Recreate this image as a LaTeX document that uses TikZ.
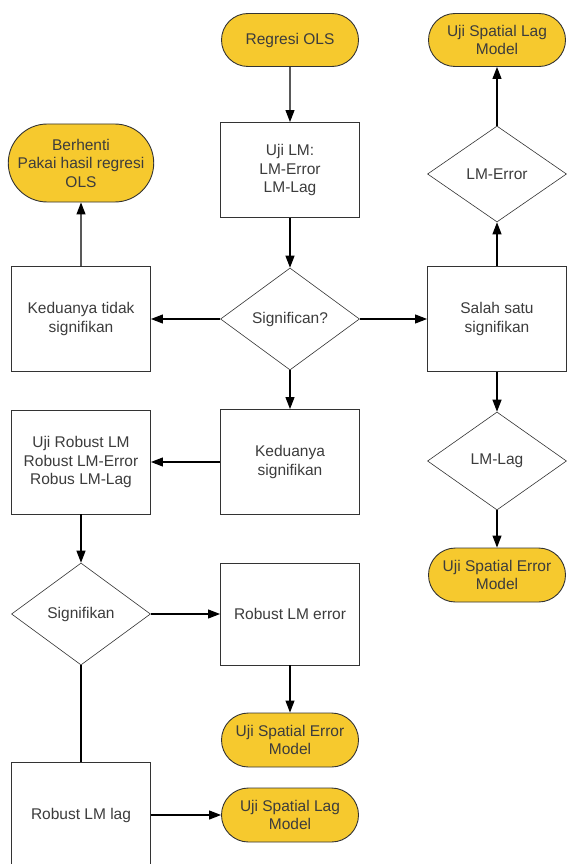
\documentclass[tikz,border=0pt]{standalone}
\usepackage{fontspec}
\setmainfont{Liberation Sans}
\usetikzlibrary{shapes.geometric,shapes.misc,arrows.meta}
\usepackage{xcolor}
\definecolor{termyellow}{RGB}{246,201,46}
\definecolor{textgray}{RGB}{60,60,60}
\newcommand{\termnode}[5] {
    \node[term,minimum height=#4] (#5) at (#1, #2) {#3};
}

\begin{document}
\begin{tikzpicture}
    \tikzset{
        term/.style={rounded rectangle,draw=black!80,line width=0.9pt,fill=termyellow,
            minimum width=139pt,inner sep=1pt,align=center,text=textgray},
        proc/.style={rectangle,draw=black!80,line width=0.9pt,fill=white,
            minimum width=139pt,minimum height=105pt,align=center,text=textgray},
        test/.style={diamond,draw=black!80,line width=0.6pt,fill=white,
            minimum width=139pt,minimum height=102pt,inner sep=1pt,align=center,text=textgray},
        x={(1pt,0pt)},y={(0pt,-1pt)},
        font=\fontsize{15.5}{18.5}\selectfont
    }
    \useasboundingbox (0,0) rectangle (567,864);
    % terminals
    \termnode{290}{40}{Regresi OLS}{53pt}{ols}
    \termnode{81}{163}{Berhenti\\Pakai hasil regresi\\OLS}{78pt}{stop}
    \termnode{497}{40}{Uji Spatial Lag\\Model}{53pt}{lag1}
    \termnode{497}{575}{Uji Spatial Error\\Model}{54pt}{err1}
    \termnode{290}{740}{Uji Spatial Error\\Model}{54pt}{err2}
    \termnode{290}{815}{Uji Spatial Lag\\Model}{54pt}{lag2}
    % steps
    \node[proc,minimum height=95pt] (lm) at (290,170) {Uji LM:\\LM-Error\\LM-Lag};
    \node[proc] (none) at (81,319) {Keduanya tidak\\signifikan};
    \node[proc] (one) at (497,319) {Salah satu\\signifikan};
    \node[proc] (both) at (290,462) {Keduanya\\signifikan};
    \node[proc,minimum height=104pt] (robust) at (81,462) {Uji Robust LM\\Robust LM-Error\\Robus LM-Lag};
    \node[proc,minimum height=102pt] (rerr) at (290,614) {Robust LM error};
    \node[proc,minimum height=106pt] (rlag) at (81,815) {Robust LM lag};
    % tests
    \node[test] (sig) at (290,319) {Significan?};
    \node[test,minimum height=96pt] (lmerr) at (497,174) {LM-Error};
    \node[test,minimum height=98pt] (lmlag) at (497,461) {LM-Lag};
    \node[test] (sig2) at (81,614) {Signifikan};
    % flow
    \begin{scope}[line width=1.1pt,-{Triangle[length=12pt,width=9pt]}]
        \foreach \a/\b in {ols/lm,lm/sig,sig/none,sig/one,sig/both,none/stop,
               one/lmerr,lmerr/lag1,one/lmlag,lmlag/err1,both/robust,
               robust/sig2,sig2/rerr,rerr/err2,rlag/lag2}
            \draw (\a) -- (\b);
        \draw[-] (sig2) -- (rlag);
    \end{scope}
\end{tikzpicture}
\end{document}
